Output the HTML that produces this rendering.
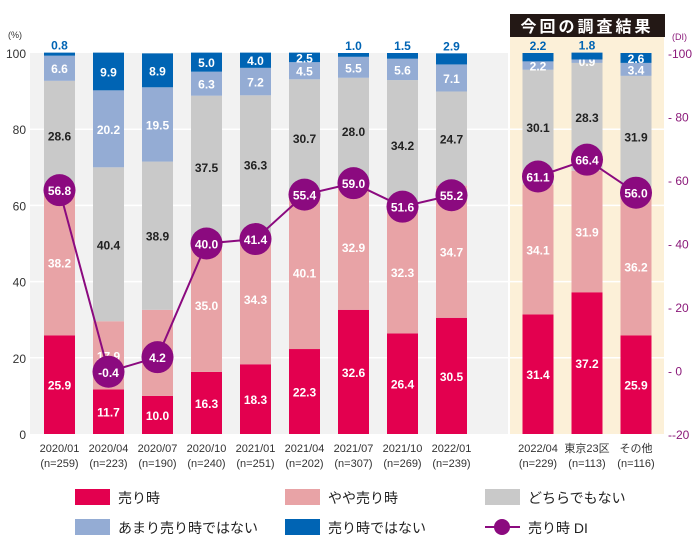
<!DOCTYPE html>
<html><head><meta charset="utf-8"><style>
body{margin:0;background:#fff;}
svg text{font-family:"Liberation Sans","Noto Sans CJK JP",sans-serif;}
</style></head><body>
<svg id="c" width="700" height="550" xmlns="http://www.w3.org/2000/svg"></svg>
<script>
const categories=["2020/01","2020/04","2020/07","2020/10","2021/01","2021/04","2021/07","2021/10","2022/01","2022/04","東京23区","その他"];
const sampleSizes=["(n=259)","(n=223)","(n=190)","(n=240)","(n=251)","(n=202)","(n=307)","(n=269)","(n=239)","(n=229)","(n=113)","(n=116)"];
const sell=[25.9,11.7,10.0,16.3,18.3,22.3,32.6,26.4,30.5,31.4,37.2,25.9];
const slightSell=[38.2,17.9,22.6,35.0,34.3,40.1,32.9,32.3,34.7,34.1,31.9,36.2];
const neither=[28.6,40.4,38.9,37.5,36.3,30.7,28.0,34.2,24.7,30.1,28.3,31.9];
const notMuch=[6.6,20.2,19.5,6.3,7.2,4.5,5.5,5.6,7.1,2.2,0.9,3.4];
const notSell=[0.8,9.9,8.9,5.0,4.0,2.5,1.0,1.5,2.9,2.2,1.8,2.6];
const notLabelAbove=[true,false,false,false,false,false,true,true,true,true,true,false];
const di=[56.8,-0.4,4.2,40.0,41.4,55.4,59.0,51.6,55.2,61.1,66.4,56.0];
const diGroups=[[0,8],[9,11]];
const leftTicks=[0,20,40,60,80,100];
const rightTicks=[-20,0,20,40,60,80,100];

const svg=document.getElementById('c');
const NS="http://www.w3.org/2000/svg";
function el(t,a,p){const e=document.createElementNS(NS,t);for(const k in a)e.setAttribute(k,a[k]);(p||svg).appendChild(e);return e;}
const Y0=434,Y100=53;
const yL=v=>Y0-(Y0-Y100)*v/100;
const yR=v=>Y0-(Y0-Y100)*(v+20)/120;
const xC=i=>i<9?59.5+49*i:538+49*(i-9);
const BW=31;

let r=el('rect',{x:30,y:53,width:478,height:381,fill:'#f2f2f2'});

r=el('rect',{x:510,y:37,width:154,height:397,fill:'#fcf0d8'});

r=el('rect',{x:510,y:14,width:155,height:23,fill:'#231815'});

let t=el('text',{x:587,y:32,'text-anchor':'middle','font-size':16,fill:'#fff','font-weight':'bold','letter-spacing':'3'});t.textContent='今回の調査結果';


leftTicks.forEach(v=>{
  if(v>0&&v<100){const g=el('line',{x1:30,x2:664,y1:yL(v),y2:yL(v),stroke:'#fff','stroke-width':1.5});
  }
  const tx=el('text',{x:26,y:yL(v)+5,'text-anchor':'end','font-size':12,fill:'#333'});tx.textContent=v;
  
});
t=el('text',{x:8,y:38,'font-size':9,fill:'#333'});t.textContent='(%)';

rightTicks.forEach(v=>{
  const tx=el('text',{x:668,y:yR(v)+5,'font-size':12,fill:'#8b1a7a'});tx.textContent='- '+v;
  if(v===100||v===-20)tx.textContent='-'+v;
  
});
t=el('text',{x:672,y:40,'font-size':9,fill:'#8b1a7a'});t.textContent='(DI)';


const series=[[sell,'#e3004f','#fff','sell'],[slightSell,'#e8a3a6','#fff','slight-sell'],[neither,'#c9c9c9','#222','neither'],[notMuch,'#94acd4','#fff','not-much'],[notSell,'#0064b4','#fff','not-sell']];
categories.forEach((c,i)=>{
  let base=0;
  series.forEach(([arr,col,tc,nm],s)=>{
    const v=arr[i];const y1=yL(base),y2=yL(base+v);
    const b=el('rect',{x:xC(i)-BW/2,y:y2,width:BW,height:y1-y2,fill:col});
    
    let ly=(y1+y2)/2+5,lc=tc;
    if(s===4&&notLabelAbove[i]){ly=y2-3;lc='#0064b4';}
    const l=el('text',{x:xC(i),y:ly,'text-anchor':'middle','font-size':12,'font-weight':'bold',fill:lc});
    l.textContent=v.toFixed(1);
    
    base+=v;
  });
  let x1=el('text',{x:xC(i),y:452,'text-anchor':'middle','font-size':11,fill:'#333'});x1.textContent=c;
  
  let x2=el('text',{x:xC(i),y:467,'text-anchor':'middle','font-size':11,fill:'#333'});x2.textContent=sampleSizes[i];
  
});
diGroups.forEach(([a,b])=>{
  const pts=[];for(let i=a;i<=b;i++)pts.push(xC(i)+','+yR(di[i]));
  const pl=el('polyline',{points:pts.join(' '),fill:'none',stroke:'#8b0a7f','stroke-width':2});
  
});
di.forEach((v,i)=>{
  const c=el('circle',{cx:xC(i),cy:yR(v),r:16,fill:'#8b0a7f'});
  
  const l=el('text',{x:xC(i),y:yR(v)+5,'text-anchor':'middle','font-size':12,'font-weight':'bold',fill:'#fff'});l.textContent=v.toFixed(1);
  
});
const legend=[['売り時','#e3004f',75,497],['やや売り時','#e8a3a6',285,497],['どちらでもない','#c9c9c9',485,497],['あまり売り時ではない','#94acd4',75,527],['売り時ではない','#0064b4',285,527]];
legend.forEach(([n,c,x,y])=>{
  const s=el('rect',{x:x,y:y-8,width:35,height:16,fill:c});
  
  const l=el('text',{x:x+43,y:y+6,'font-size':14,fill:'#222'});l.textContent=n;
  
});
let ll=el('line',{x1:485,x2:520,y1:527,y2:527,stroke:'#8b0a7f','stroke-width':2});

let lc=el('circle',{cx:502,cy:527,r:8,fill:'#8b0a7f'});

t=el('text',{x:528,y:533,'font-size':14,fill:'#222'});t.textContent='売り時 DI';

</script>
</body></html>
